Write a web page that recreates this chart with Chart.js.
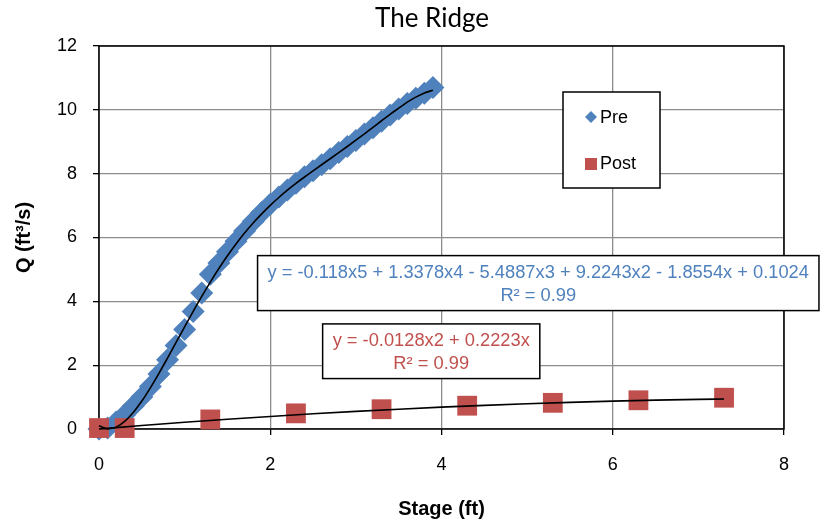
<!DOCTYPE html>
<html>
<head>
<meta charset="utf-8">
<script src="https://cdn.jsdelivr.net/npm/chart.js@4.4.0/dist/chart.umd.min.js"></script>
<style>
  html, body { margin: 0; padding: 0; background: #fff; }
</style>
</head>
<body>
<canvas id="ridgeChart" width="828" height="525"></canvas>
<script>
// ------------------------- DATA -------------------------------------

// Pre series (blue diamonds) - stage (ft) vs Q (ft3/s)
var preStage = [0, 0.1, 0.2, 0.3, 0.4, 0.5, 0.6, 0.7, 0.8, 0.9,
                1.0, 1.1, 1.2, 1.3, 1.4, 1.5, 1.6, 1.7, 1.8, 1.9,
                2.0, 2.1, 2.2, 2.3, 2.4, 2.5, 2.6, 2.7, 2.8, 2.9,
                3.0, 3.1, 3.2, 3.3, 3.4, 3.5, 3.6, 3.7, 3.8, 3.9];
var preQ = [0.0, 0.03, 0.22, 0.45, 0.72, 1.0, 1.33, 1.72, 2.17, 2.62,
            3.12, 3.68, 4.26, 4.85, 5.2, 5.55, 5.88, 6.2, 6.5, 6.78,
            7.04, 7.27, 7.49, 7.7, 7.9, 8.09, 8.28, 8.47, 8.66, 8.85,
            9.04, 9.24, 9.44, 9.64, 9.84, 10.03, 10.2, 10.36, 10.52, 10.7];

// Post series (red squares)
var postStage = [0, 0.3, 1.3, 2.3, 3.3, 4.3, 5.3, 6.3, 7.3];
var postQ = [0.03, 0.03, 0.30, 0.49, 0.62, 0.73, 0.82, 0.90, 0.98];

// Trendlines (black)
var preTrendStage = preStage;
var preTrendQ = [0.10, 0.004, 0.059, 0.238, 0.518, 0.875, 1.289, 1.742, 2.221, 2.711,
                 3.202, 3.686, 4.155, 4.604, 5.028, 5.426, 5.796, 6.138, 6.453, 6.741,
                 7.008, 7.253, 7.481, 7.694, 7.895, 8.089, 8.280, 8.468, 8.658, 8.851,
                 9.048, 9.249, 9.453, 9.658, 9.860, 10.051, 10.240, 10.398, 10.529, 10.612];
var postTrendStage = [0, 0.5, 1, 1.5, 2, 2.5, 3, 3.5, 4, 4.5, 5, 5.5, 6, 6.5, 7, 7.3];
var postTrendQ = [0, 0.108, 0.210, 0.305, 0.393, 0.476, 0.552, 0.621, 0.684, 0.741,
                  0.792, 0.835, 0.873, 0.904, 0.929, 0.941];

// Axis ticks
var xTicks = [0, 2, 4, 6, 8];
var yTicks = [0, 2, 4, 6, 8, 10, 12];

// Trendline labels
var preEquation = ["y = -0.118x5 + 1.3378x4 - 5.4887x3 + 9.2243x2 - 1.8554x + 0.1024", "R\u00b2 = 0.99"];
var postEquation = ["y = -0.0128x2 + 0.2223x", "R\u00b2 = 0.99"];

// ------------------------- HELPERS -------------------------------------

var BLUE = "#4F81BD";
var RED = "#C0504D";
var TICK_FONT = "'Liberation Sans', Arial, sans-serif";

// zip two arrays into {x, y} points
function toPoints(xs, ys) {
  var pts = [];
  for (var i = 0; i < xs.length; i++) {
    pts.push({x: xs[i], y: ys[i]});
  }
  return pts;
}

// draws the black frame round the plot area (under the markers)
var framePlugin = {
  id: 'frame',
  beforeDatasetsDraw: function(chart) {
    var a = chart.chartArea;
    var ctx = chart.ctx;
    ctx.save();
    ctx.strokeStyle = "#000";
    ctx.lineWidth = 1.5;
    ctx.strokeRect(a.left, a.top, a.right - a.left, a.bottom - a.top);
    ctx.restore();
  }
};

// boxed trendline equations, anchored on data coordinates
function drawEquation(chart, lines, color, cx, y1, y2) {
  var ctx = chart.ctx;
  var xs = chart.scales.x, ys = chart.scales.y;
  var px = xs.getPixelForValue(cx);
  var py1 = ys.getPixelForValue(y1);
  var py2 = ys.getPixelForValue(y2);
  ctx.save();
  ctx.font = "18.3px " + TICK_FONT;
  var w = Math.max(ctx.measureText(lines[0]).width, ctx.measureText(lines[1]).width);
  var boxW = w + 20;
  var top = py1 - 17, bottom = py2 + 15;
  ctx.fillStyle = "#fff";
  ctx.fillRect(px - boxW / 2, top, boxW, bottom - top);
  ctx.strokeStyle = "#000";
  ctx.lineWidth = 1.5;
  ctx.strokeRect(px - boxW / 2, top, boxW, bottom - top);
  ctx.fillStyle = color;
  ctx.textAlign = "center";
  ctx.textBaseline = "middle";
  ctx.fillText(lines[0], px, py1);
  ctx.fillText(lines[1], px, py2);
  ctx.restore();
}

var labelPlugin = {
  id: 'labels',
  afterDraw: function(chart) {
    var ctx = chart.ctx;

    // chart title (sits slightly left of the plot centre, as in the original)
    ctx.save();
    ctx.fillStyle = "#000";
    ctx.font = "26px Lato, 'Open Sans', sans-serif";
    ctx.textAlign = "center";
    ctx.textBaseline = "middle";
    ctx.fillText("The Ridge", 432, 19);
    ctx.restore();

    drawEquation(chart, preEquation, BLUE, 5.13, 4.9, 4.18);
    drawEquation(chart, postEquation, RED, 3.88, 2.76, 2.05);

    // legend box inside the plot
    ctx.save();
    ctx.fillStyle = "#fff";
    ctx.fillRect(563, 92, 97, 96);
    ctx.strokeStyle = "#000";
    ctx.lineWidth = 1.5;
    ctx.strokeRect(563, 92, 97, 96);
    // diamond
    ctx.fillStyle = BLUE;
    ctx.beginPath();
    ctx.moveTo(591, 111); ctx.lineTo(597, 117); ctx.lineTo(591, 123); ctx.lineTo(585, 117);
    ctx.closePath();
    ctx.fill();
    // square
    ctx.fillStyle = RED;
    ctx.fillRect(585, 158, 12, 12);
    ctx.fillStyle = "#000";
    ctx.font = "18px " + TICK_FONT;
    ctx.textBaseline = "middle";
    ctx.fillText("Pre", 600, 118);
    ctx.fillText("Post", 600, 164);
    ctx.restore();
  }
};

// ------------------------- CHART -------------------------------------

var ctx = document.getElementById('ridgeChart');
var chart = new Chart(ctx, {
  type: 'scatter',
  data: {
    datasets: [
      {
        label: 'Pre trend',
        type: 'line',
        data: toPoints(preTrendStage, preTrendQ),
        borderColor: "#000",
        borderWidth: 1.6,
        pointRadius: 0,
        cubicInterpolationMode: 'monotone',
        fill: false,
        clip: false,
        order: 0
      },
      {
        label: 'Post trend',
        type: 'line',
        data: toPoints(postTrendStage, postTrendQ),
        borderColor: "#000",
        borderWidth: 1.6,
        pointRadius: 0,
        cubicInterpolationMode: 'monotone',
        fill: false,
        clip: false,
        order: 0
      },
      {
        label: 'Post',
        data: toPoints(postStage, postQ),
        pointStyle: 'rect',
        pointRadius: 14,
        backgroundColor: RED,
        borderColor: RED,
        borderWidth: 0,
        clip: false,
        order: 1
      },
      {
        label: 'Pre',
        data: toPoints(preStage, preQ),
        pointStyle: 'rectRot',
        pointRadius: 11.5,
        backgroundColor: BLUE,
        borderColor: BLUE,
        borderWidth: 0,
        clip: false,
        order: 2
      }
    ]
  },
  options: {
    responsive: false,
    animation: false,
    devicePixelRatio: 1,
    layout: { padding: { top: 46, right: 44, bottom: 0, left: 0 } },
    plugins: {
      legend: { display: false },
      tooltip: { enabled: false },
      title: { display: false }
    },
    scales: {
      x: {
        type: 'linear',
        min: 0,
        max: 8,
        afterBuildTicks: function(axis) { axis.ticks = xTicks.map(function(v) { return {value: v}; }); },
        afterFit: function(scale) { scale.height = 96; },
        grid: { color: "#8c8c8c", lineWidth: 1.3, tickColor: "#000", tickLength: 6, drawTicks: true },
        border: { display: false },
        ticks: { color: "#000", padding: 19, maxRotation: 0, font: { family: TICK_FONT, size: 18 } },
        title: {
          display: true,
          text: 'Stage (ft)',
          color: "#000",
          font: { family: TICK_FONT, size: 20, weight: 'bold', lineHeight: 1.2 },
          padding: { top: 0, bottom: 4 }
        }
      },
      y: {
        type: 'linear',
        min: 0,
        max: 12,
        afterBuildTicks: function(axis) { axis.ticks = yTicks.map(function(v) { return {value: v}; }); },
        afterFit: function(scale) { scale.width = 99; },
        grid: { color: "#8c8c8c", lineWidth: 1.3, tickColor: "#000", tickLength: 6, drawTicks: true },
        border: { display: false },
        ticks: { color: "#000", padding: 16, font: { family: TICK_FONT, size: 18 } },
        title: {
          display: true,
          text: 'Q (ft\u00b3/s)',
          color: "#000",
          font: { family: TICK_FONT, size: 20, weight: 'bold', lineHeight: 1.2 },
          padding: { top: 12, bottom: 0 }
        }
      }
    }
  },
  plugins: [framePlugin, labelPlugin]
});
</script>
</body>
</html>
